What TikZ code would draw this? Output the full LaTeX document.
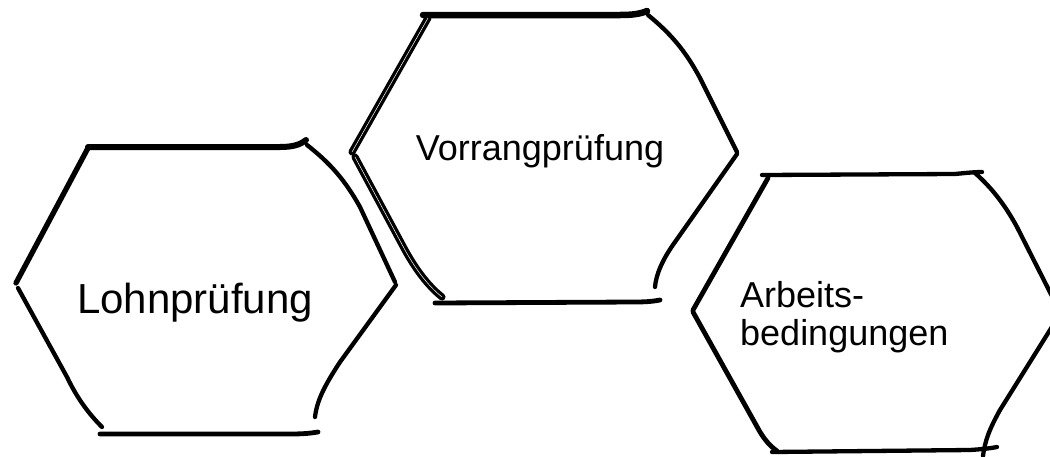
\documentclass[tikz,border=0pt]{standalone}
\usepackage{fontspec}
\setmainfont{Liberation Sans}
\begin{document}
\begin{tikzpicture}[x=1pt,y=-1pt,
  edge/.style={draw=black,line width=4.3pt,line cap=round,line join=round},
  thickedge/.style={edge,line width=6pt},
  dbl/.style={edge,line width=3.3pt,double=white,double distance=0.5pt},
  lbl/.style={inner sep=0pt,font=\fontsize{36}{38}\selectfont}]
\useasboundingbox (0,0) rectangle (1050,456);
\fill[white] (0,0) rectangle (1050,456);
\clip (0,0) rectangle (1050,456);

% Hexagon 1: Lohnprüfung
\draw[thickedge] (88,147) -- (280,147) .. controls (292,147) and (300,145) .. (306,140);
\draw[edge] (307,145) .. controls (330,163) and (345,180) .. (360,207) -- (395,282);
\draw[edge] (396,285) -- (340,362) .. controls (325,385) and (317,400) .. (315,417);
\draw[edge,line width=4.8pt] (100,434) -- (290,434) .. controls (305,434) and (312,433) .. (318,432);
\draw[edge] (18,288) -- (67,377) .. controls (78,400) and (90,415) .. (102,427);
\draw[thickedge,line width=5.3pt] (88,148) -- (16,283);
\node[lbl,font=\fontsize{42}{46}\selectfont,anchor=base] (lohn) at (195,313) {Lohnprüfung};

% Hexagon 2: Vorrangprüfung
\draw[thickedge,line width=6.5pt] (423,15) -- (620,15) .. controls (632,15) and (640,14) .. (647,11);
\draw[edge] (648,15) .. controls (670,33) and (685,50) .. (700,78) -- (737,152);
\draw[edge] (737,154) -- (675,242) .. controls (662,260) and (656,275) .. (655,287);
\draw[edge,line width=4.8pt] (435,303) -- (635,302) .. controls (648,302) and (655,301) .. (660,300);
\draw[dbl] (355,157) -- (405,250) .. controls (415,268) and (427,285) .. (442,297);
\draw[dbl] (428,18) -- (352,152);
\node[lbl,anchor=base] (vorrang) at (540,160) {Vorrangprüfung};

% Hexagon 3: Arbeitsbedingungen
\draw[edge] (762,175) -- (955,174) .. controls (965,173) and (975,172) .. (982,172);
\draw[edge] (975,173) .. controls (992,188) and (1005,205) .. (1017,227) -- (1060,312);
\draw[edge] (1060,314) -- (1000,410) .. controls (990,428) and (985,440) .. (983,456);
\draw[edge] (772,452) -- (970,450) .. controls (985,449) and (992,448) .. (997,447);
\draw[edge,line width=4.8pt] (693,312) -- (760,432) .. controls (765,440) and (770,446) .. (777,451);
\draw[edge,line width=4.8pt] (768,178) -- (693,310);
\node[lbl,anchor=base west] (arb1) at (740,307) {Arbeits-};
\node[lbl,anchor=base west] (arb2) at (740,345) {bedingungen};
\end{tikzpicture}
\end{document}
